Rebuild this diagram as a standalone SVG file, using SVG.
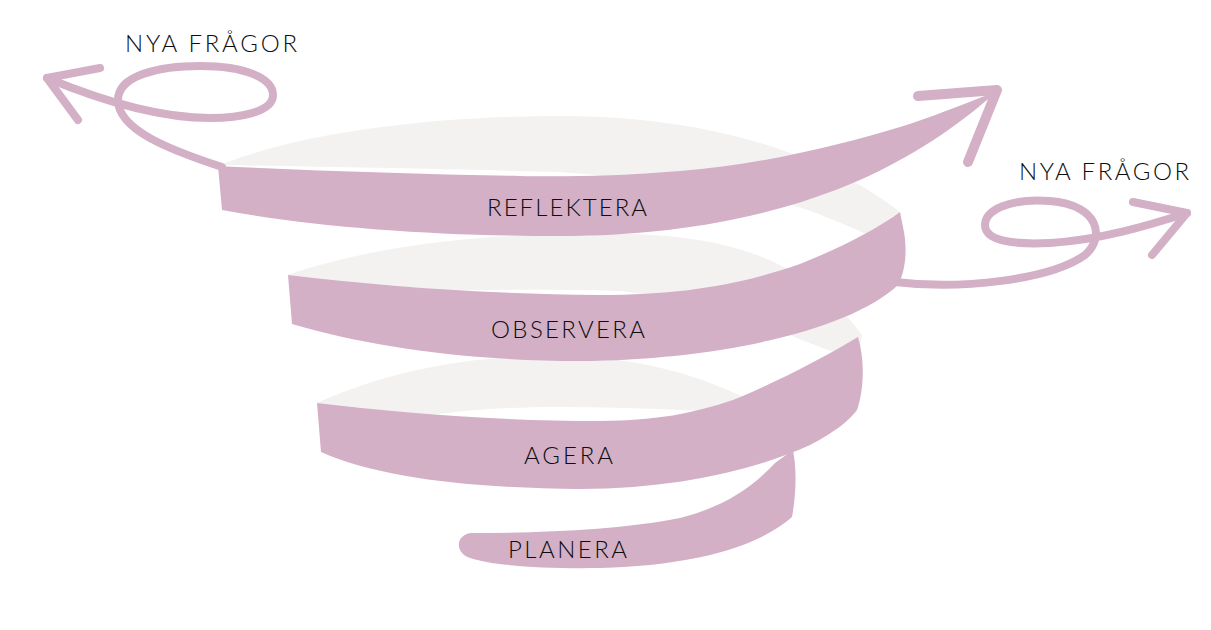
<svg xmlns="http://www.w3.org/2000/svg" width="1211" height="630" viewBox="0 0 1211 630">
<style>
.pink{fill:#D3B0C6}
.grey{fill:#F3F2F0}
.line{fill:none;stroke:#D3B0C6;stroke-width:8;stroke-linecap:round;stroke-linejoin:round}
.head{fill:none;stroke:#D3B0C6;stroke-width:10;stroke-linecap:round;stroke-linejoin:round}
text{font-family:Lato,"Noto Sans","Liberation Sans",sans-serif;font-size:24px;font-weight:300;fill:#0d0d0d}
</style>
<rect width="1211" height="630" fill="#ffffff"/>
<g id="inner-surfaces">
<path class="grey" d="M220,165 C300,133 430,116 560,116 C700,116 820,150 900,212 L866,234 C840,222 815,212 792,205 C720,190 640,178 560,172 C450,169 330,167 220,165 Z"/>
<path class="grey" d="M287,275 C370,247 470,234 590,234 C710,232 800,250 862,335 L858,358 C830,352 815,345 797,338 C760,320 700,300 620,291 C540,289 470,290 420,291 L287,275 Z"/>
<path class="grey" d="M317,403 C390,370 470,356 550,356 C640,356 700,375 760,405 L740,412 C680,410 620,407 560,407 C500,407 460,411 430,415 L317,403 Z"/>
</g>
<g id="connectors">
<path class="line" d="M222,167 C170,150 118,130 118,100 C118,75 160,66 200,66 C245,66 273,78 273,95 C273,112 240,118 210,118 C160,118 100,100 47,78"/>
<polyline class="line" points="100,68 47,78 78,120"/>
<path class="line" d="M895,282 C960,290 1050,280 1085,255 C1105,238 1100,205 1050,201 C1010,198 985,210 985,225 C985,240 1010,245 1050,243 C1100,240 1150,225 1187,213"/>
<polyline class="line" points="1133,202 1187,213 1152,255"/>
</g>
<g id="planera">
<path class="pink" d="M471,533 C540,533 620,530 680,518 C720,508 750,490 775,463 L793,450 C797,470 796,495 792,517 C760,545 700,565 600,568 C540,569 490,565 470,558 C455,553 455,535 471,533 Z"/>
<text x="508" y="558" textLength="119" lengthAdjust="spacing">PLANERA</text>
</g>
<g id="agera">
<path class="pink" d="M317,403 L321,452 C380,478 470,488 580,489 C680,489 760,468 810,445 C835,432 850,420 857,410 C864,390 865,360 858,337 C820,360 770,385 733,400 C690,414 660,420 600,421 C500,421 400,413 317,403 Z"/>
<text x="524" y="464" textLength="89" lengthAdjust="spacing">AGERA</text>
</g>
<g id="observera">
<path class="pink" d="M288,275 C380,286 480,294 600,295 C680,295 740,285 800,264 C840,248 875,230 900,212 L904,232 C907,250 906,270 898,285 C850,330 720,360 580,361 C470,361 370,347 292,324 Z"/>
<text x="491" y="338" textLength="154" lengthAdjust="spacing">OBSERVERA</text>
</g>
<g id="reflektera">
<path class="pink" d="M218,166 L222,210 C320,228 440,236 560,236 C680,236 780,215 860,180 C910,158 960,125 996,92 C960,105 930,118 900,127 C840,145 760,165 680,171 C620,176 560,177 520,176 C420,174 320,171 218,166 Z"/>
<polyline class="head" points="918,96 997,90 968,162"/>
<text x="487" y="216" textLength="160" lengthAdjust="spacing">REFLEKTERA</text>
</g>
<g id="nya-fragor-left">
<text x="125" y="52" textLength="172" lengthAdjust="spacing">NYA FRÅGOR</text>
</g>
<g id="nya-fragor-right">
<text x="1019" y="180" textLength="170" lengthAdjust="spacing">NYA FRÅGOR</text>
</g>
</svg>
